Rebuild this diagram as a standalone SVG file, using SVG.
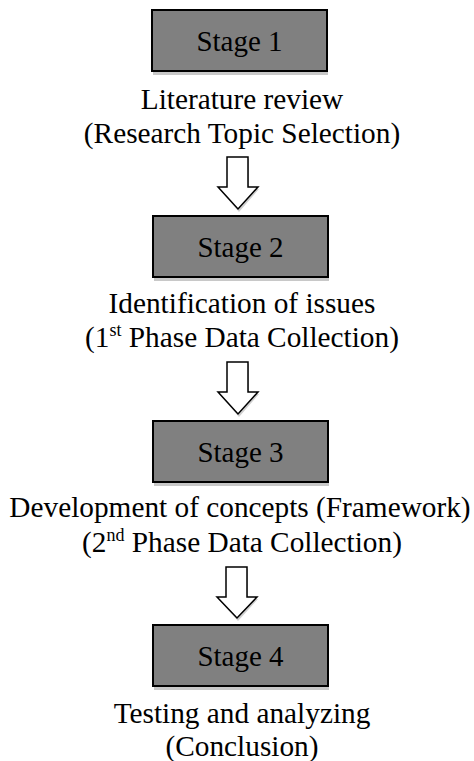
<svg xmlns="http://www.w3.org/2000/svg" width="474" height="761" viewBox="0 0 474 761">
<style>
.box{fill:#808080;stroke:#000;stroke-width:2}
.shadow{fill:#c8c8c8}
.st{font-family:"Liberation Serif","Times New Roman",serif;font-size:29px;fill:#000;text-anchor:middle}
.lbl{font-family:"Liberation Serif","Times New Roman",serif;font-size:29.3px;fill:#000;text-anchor:middle}
.sup{font-size:18px}
.arrow{fill:#fff;stroke:#000;stroke-width:1.5;stroke-linejoin:miter}
.ashadow{fill:#d0d0d0}
</style>
<rect width="474" height="761" fill="#fff"/>
<g id="connectors">
  <g id="arrow1">
    <polygon class="ashadow" points="228,159 249,159 249,189 259,189 239,212 219,189 228,189"/>
    <polygon class="arrow" points="227,157 248,157 248,187 258,187 238,209 218,187 227,187"/>
  </g>
  <g id="arrow2">
    <polygon class="ashadow" points="228,364 249,364 249,394 259,394 239,417 219,394 228,394"/>
    <polygon class="arrow" points="227,362 248,362 248,392 258,392 238,414 218,392 227,392"/>
  </g>
  <g id="arrow3">
    <polygon class="ashadow" points="227,569 248,569 248,599 258,599 238,621 218,599 227,599"/>
    <polygon class="arrow" points="226,567 247,567 247,597 257,597 237,618 217,597 226,597"/>
  </g>
</g>
<g id="stage1">
  <rect class="shadow" x="153" y="71" width="175" height="4"/>
  <rect class="box" x="152" y="10" width="175" height="61"/>
  <text class="st" x="239.5" y="51">Stage 1</text>
  <text class="lbl" x="242" y="109">Literature review</text>
  <text class="lbl" x="242" y="143">(Research Topic Selection)</text>
</g>
<g id="stage2">
  <rect class="shadow" x="154" y="277" width="175" height="4"/>
  <rect class="box" x="153" y="216" width="175" height="61"/>
  <text class="st" x="240.5" y="257">Stage 2</text>
  <text class="lbl" x="242" y="313">Identification of issues</text>
  <text class="lbl" x="242" y="347">(1<tspan class="sup" dy="-11">st</tspan><tspan dy="11"> Phase Data Collection)</tspan></text>
</g>
<g id="stage3">
  <rect class="shadow" x="154" y="482" width="175" height="4"/>
  <rect class="box" x="153" y="421" width="175" height="61"/>
  <text class="st" x="240.5" y="462">Stage 3</text>
  <text class="lbl" x="240" y="517">Development of concepts (Framework)</text>
  <text class="lbl" x="242" y="552">(2<tspan class="sup" dy="-11">nd</tspan><tspan dy="11"> Phase Data Collection)</tspan></text>
</g>
<g id="stage4">
  <rect class="shadow" x="154" y="686" width="175" height="4"/>
  <rect class="box" x="153" y="625" width="175" height="61"/>
  <text class="st" x="240.5" y="666">Stage 4</text>
  <text class="lbl" x="242" y="723">Testing and analyzing</text>
  <text class="lbl" x="242" y="756">(Conclusion)</text>
</g>
</svg>
